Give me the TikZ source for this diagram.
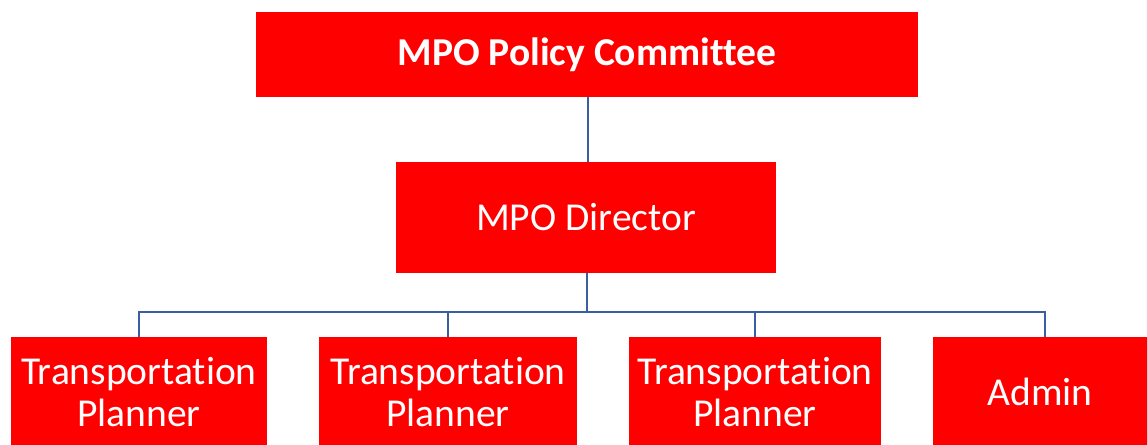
\documentclass[tikz,border=0pt]{standalone}
\usepackage{fontspec}
\setmainfont{Carlito}[Ligatures=NoCommon]
\definecolor{boxred}{RGB}{255,0,0}
\definecolor{linkblue}{RGB}{59,94,160}
\tikzset{
    post/.style={fill=boxred,text=white,align=center,inner sep=0pt,
        font=\fontsize{22.5}{24}\selectfont},
    link/.style={draw=linkblue,line width=1.4pt}
}
\begin{document}
\begin{tikzpicture}[x=0.02cm,y=-0.02cm]
    \useasboundingbox (0,0) rectangle (1147,445);
    \node[post,minimum width=662*0.02cm,minimum height=85*0.02cm,font=\fontsize{22.5}{24}\selectfont\bfseries] (board) at (587,54.5) {MPO Policy Committee};
    \node[post,minimum width=380*0.02cm,minimum height=111*0.02cm] (director) at (586,217.5) {MPO Director};
    \node[post,minimum width=256*0.02cm,minimum height=110*0.02cm] (planA) at (139,392) {Transportation\\Planner};
    \node[post,minimum width=258*0.02cm,minimum height=110*0.02cm] (planB) at (448,392) {Transportation\\Planner};
    \node[post,minimum width=252*0.02cm,minimum height=110*0.02cm] (planC) at (755,392) {Transportation\\Planner};
    \node[post,minimum width=215*0.02cm,minimum height=110*0.02cm] (admin) at (1040,392) {Admin};
    \draw[link] ([xshift=2*0.02cm]director.north) -- ([xshift=2*0.02cm]director.north |- board.south);
    \coordinate (split) at (587,312);
    \draw[link] ([xshift=1*0.02cm]director.south) -- (split);
    \foreach \staff in {planA,planB,planC}
        \draw[link] (split) -| (\staff.north);
    \draw[link] (split) -| ([xshift=5*0.02cm]admin.north);
\end{tikzpicture}
\end{document}
